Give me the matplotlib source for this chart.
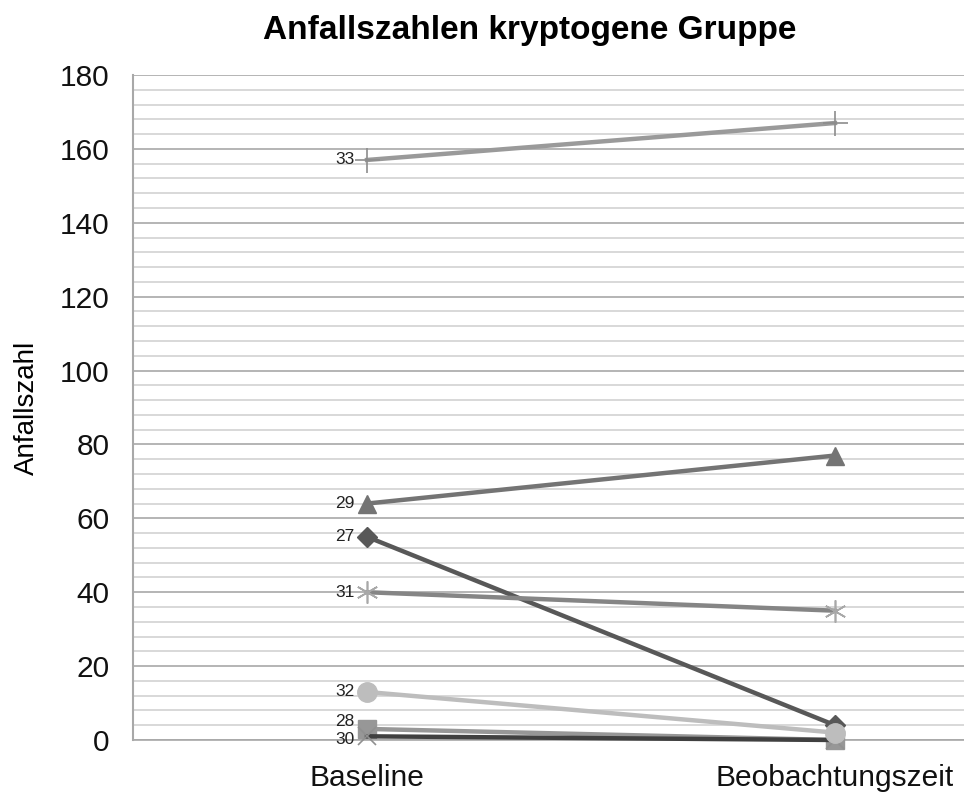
import numpy as np
import matplotlib.pyplot as plt

plt.rcParams['font.family'] = ['Liberation Sans', 'DejaVu Sans']

# data
categories = ['Baseline', 'Beobachtungszeit']
patients = ['27', '28', '29', '30', '31', '32', '33']
baseline = [55, 3, 64, 1, 40, 13, 157]
follow_up = [4, 0, 77, 0, 35, 2, 167]

# styles per patient
colors = ['#585858', '#979797', '#747474', '#404040', '#858585', '#bdbdbd', '#9a9a9a']
edge_colors = ['#585858', '#979797', '#747474', '#909090', '#a8a8a8', '#bdbdbd', '#8c8c8c']
markers = ['D', 's', '^', 'x', (6, 2, 0), 'o', '+']
msizes = [10, 13, 13, 13, 16, 14, 18]
label_nudge = {'28': 5, '30': -2}

fig = plt.figure(figsize=(9.64, 7.96), dpi=100)
ax = fig.add_axes([133 / 964, 56 / 796, 936 / 964, 665 / 796])

x = np.arange(len(categories))
for i, p in enumerate(patients):
    y = [baseline[i], follow_up[i]]
    thin = markers[i] in ('x', '+', (6, 2, 0))
    ax.plot(x, y, color=colors[i], lw=3.2, marker=markers[i], ms=msizes[i],
            mew=1.2 if thin else 1,
            mec=edge_colors[i], mfc=colors[i], zorder=3, clip_on=False)
    ax.annotate(p, (x[0], baseline[i]), xytext=(-9, label_nudge.get(p, 0)),
                textcoords='offset points', ha='right', va='center',
                fontsize=12.5, color='#222222', zorder=4)

ax.set_xlim(-0.5, 1.5)
ax.set_ylim(0, 180)
ax.set_yticks(np.arange(0, 181, 20))
ax.set_yticks(np.arange(0, 181, 4), minor=True)
ax.set_xticks(x)
ax.set_xticklabels(categories)
ax.tick_params(axis='both', which='both', length=0, labelsize=21.5, colors='#111111')
ax.tick_params(axis='x', pad=17)
ax.tick_params(axis='y', pad=17)

ax.grid(axis='y', which='minor', color='#d2d2d2', lw=1.2)
ax.grid(axis='y', which='major', color='#a8a8a8', lw=1.2)
ax.set_axisbelow(True)
for s in ['top', 'right']:
    ax.spines[s].set_visible(False)
ax.spines['left'].set_color('#a8a8a8')
ax.spines['left'].set_linewidth(1.5)
ax.spines['bottom'].set_color('#a8a8a8')
ax.spines['bottom'].set_linewidth(1.2)

ax.set_ylabel('Anfallszahl', fontsize=20, labelpad=14)
fig.text(530 / 964, 1 - 30 / 796, 'Anfallszahlen kryptogene Gruppe',
         ha='center', va='center', fontsize=24, fontweight='bold')

fig.savefig('out.png', dpi=100)
